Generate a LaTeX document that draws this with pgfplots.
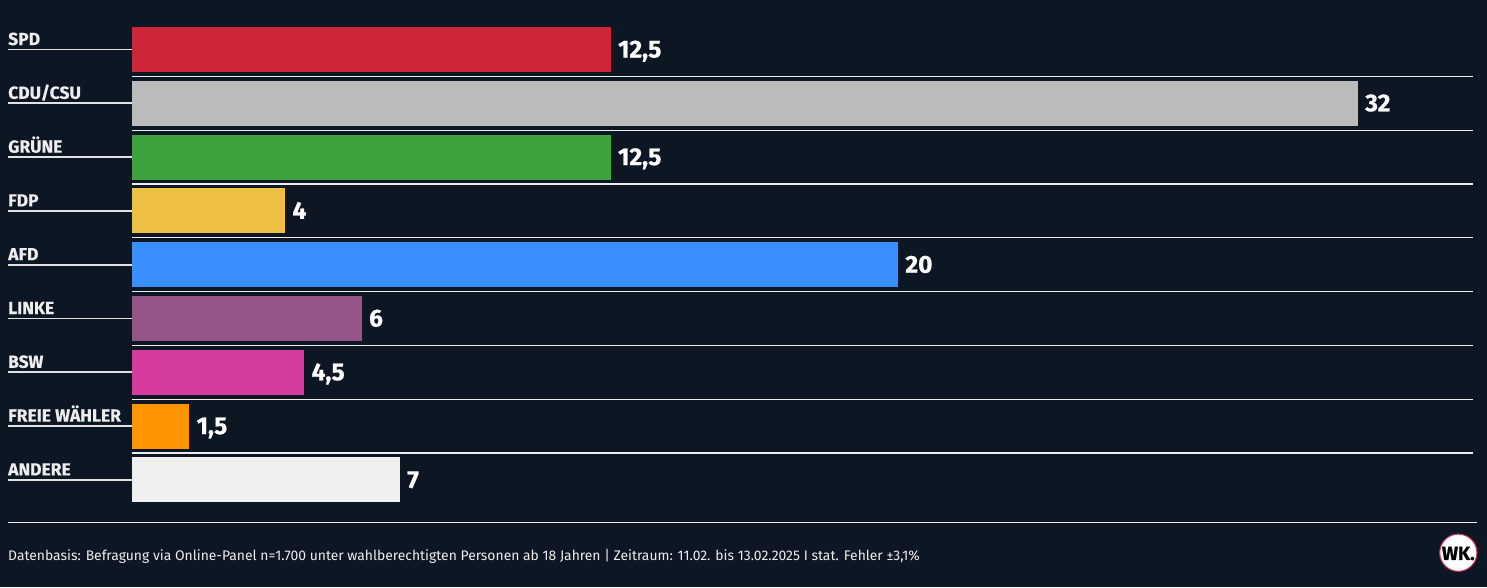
\documentclass[border=0pt]{standalone}
\usepackage{pgfplots}
\pgfplotsset{compat=1.18}
\usepackage{fontspec}
\setmainfont{Fira Sans}
\newfontfamily\heavyfont[BoldFeatures={FakeBold=0.7}]{Fira Sans}
\newfontfamily\labelfont[BoldFeatures={FakeBold=0.4}]{Fira Sans}
\definecolor{bg}{HTML}{0D1623}
\definecolor{fg}{HTML}{EDEDED}
\definecolor{cSPD}{HTML}{CC2638}
\definecolor{cCDU}{HTML}{BBBBBB}
\definecolor{cGRU}{HTML}{3EA33E}
\definecolor{cFDP}{HTML}{EDBF42}
\definecolor{cAFD}{HTML}{3A8FFF}
\definecolor{cLIN}{HTML}{955587}
\definecolor{cBSW}{HTML}{D63BA0}
\definecolor{cFW}{HTML}{FF9500}
\definecolor{cAND}{HTML}{F0F0F0}
\definecolor{logoring}{HTML}{D0305F}
\begin{document}
\begin{tikzpicture}[x=1pt,y=1pt]
\fill[bg] (0,0) rectangle (1487,-587);
\begin{axis}[
  at={(132pt,-22.6pt)}, anchor=north west,
  scale only axis, width=1341pt, height=484.2pt,
  xmin=0, xmax=35, ymin=-0.5, ymax=8.5, y dir=reverse,
  clip=false,
  axis line style={draw=none},
  major tick length=0pt,
  xtick=\empty,
  ytick={0,1,2,3,4,5,6,7,8},
  yticklabels={SPD,CDU/CSU,GRÜNE,FDP,AFD,LINKE,BSW,FREIE WÄHLER,ANDERE},
  yticklabel style={anchor=base west, inner sep=0pt, xshift=-124pt, yshift=4.5pt,
    font=\labelfont\bfseries\fontsize{17.5}{20}\selectfont, text=fg},
  point meta=x,
  nodes near coords={\pgfmathprintnumber[use comma,assume math mode=true]{\pgfplotspointmeta}},
  nodes near coords style={anchor=base west, inner sep=0pt, xshift=7pt, yshift=-8pt,
    font=\heavyfont\bfseries\fontsize{24.5}{28}\selectfont, text=white},
]
\draw[fg, line width=1.3pt] (axis cs:0,0.5) -- (axis cs:35,0.5);
\draw[fg, line width=1.3pt] (axis cs:0,1.5) -- (axis cs:35,1.5);
\draw[fg, line width=1.3pt] (axis cs:0,2.5) -- (axis cs:35,2.5);
\draw[fg, line width=1.3pt] (axis cs:0,3.5) -- (axis cs:35,3.5);
\draw[fg, line width=1.3pt] (axis cs:0,4.5) -- (axis cs:35,4.5);
\draw[fg, line width=1.3pt] (axis cs:0,5.5) -- (axis cs:35,5.5);
\draw[fg, line width=1.3pt] (axis cs:0,6.5) -- (axis cs:35,6.5);
\draw[fg, line width=1.3pt] (axis cs:0,7.5) -- (axis cs:35,7.5);
\pgfplotsinvokeforeach{0,1,2,3,4,5,6,7,8}{
  \draw[fg!90!gray, line width=1.8pt] ([xshift=-124pt]axis cs:0,#1) -- (axis cs:0,#1);
}
\addplot[xbar, bar width=0.836, bar shift=0pt, fill=cSPD, draw=none] coordinates {(12.5,0)};
\addplot[xbar, bar width=0.836, bar shift=0pt, fill=cCDU, draw=none] coordinates {(32,1)};
\addplot[xbar, bar width=0.836, bar shift=0pt, fill=cGRU, draw=none] coordinates {(12.5,2)};
\addplot[xbar, bar width=0.836, bar shift=0pt, fill=cFDP, draw=none] coordinates {(4,3)};
\addplot[xbar, bar width=0.836, bar shift=0pt, fill=cAFD, draw=none] coordinates {(20,4)};
\addplot[xbar, bar width=0.836, bar shift=0pt, fill=cLIN, draw=none] coordinates {(6,5)};
\addplot[xbar, bar width=0.836, bar shift=0pt, fill=cBSW, draw=none] coordinates {(4.5,6)};
\addplot[xbar, bar width=0.836, bar shift=0pt, fill=cFW, draw=none] coordinates {(1.5,7)};
\addplot[xbar, bar width=0.836, bar shift=0pt, fill=cAND, draw=none] coordinates {(7,8)};
\end{axis}
\draw[fg, line width=1.2pt] (8,-522.3) -- (1477,-522.3);
\node[anchor=base west, inner sep=0pt, text=fg, font=\fontsize{13.9}{17}\selectfont] at (8,-560)
  {Datenbasis: Befragung via Online-Panel n=1.700 unter wahlberechtigten Personen ab 18 Jahren | Zeitraum: 11.02. bis 13.02.2025 I stat. Fehler ±3,1\%};
\fill[white] (1458.3,-552.7) circle (18.6);
\draw[logoring, line width=1pt] (1458.3,-552.7) circle (18.6);
\node[inner sep=0pt, text=black, font=\heavyfont\bfseries\fontsize{19}{19}\selectfont] at (1458.3,-553.5) {WK.};
\pgfresetboundingbox
\path (0,0) rectangle (1487,-587);
\end{tikzpicture}
\end{document}
